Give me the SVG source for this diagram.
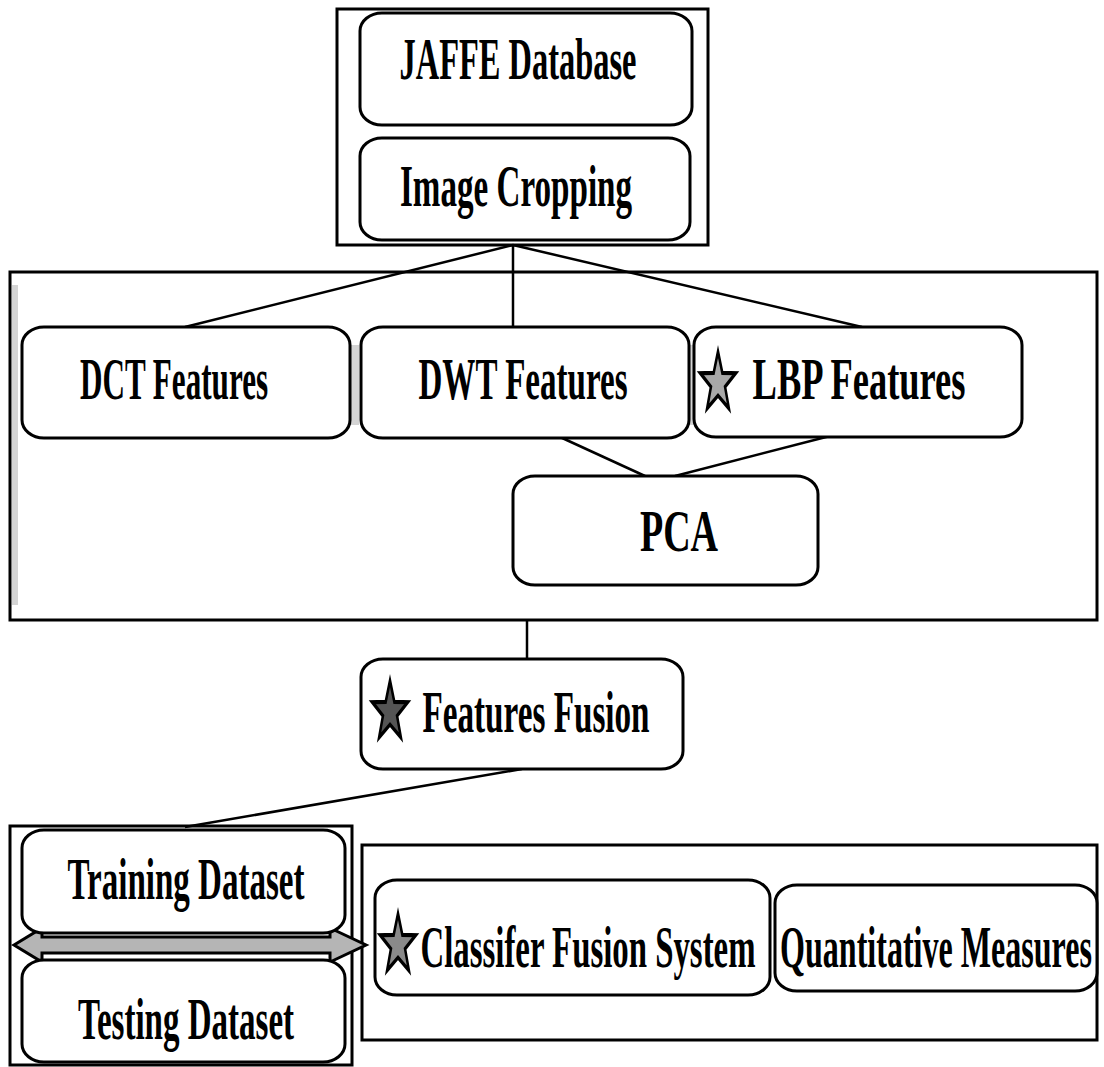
<svg xmlns="http://www.w3.org/2000/svg" xmlns:xlink="http://www.w3.org/1999/xlink" width="1104" height="1067" viewBox="0 0 1104 1067">
<style>
.frame{fill:none;stroke:#000;stroke-width:3}
.box{fill:#fff;stroke:#000;stroke-width:3}
.lbl{font-family:"Liberation Serif","Times New Roman",serif;font-weight:bold;font-size:60px;fill:#000;text-anchor:middle}
.conn{stroke:#000;stroke-width:2.5;fill:none}
.strip{fill:#d4d4d4}
</style>
<defs>
<polygon id="star" points="0,-30 7,-9.7 28.5,-9.3 11.4,3.7 17.6,24.3 0,12 -17.6,24.3 -11.4,3.7 -28.5,-9.3 -7,-9.7" stroke="#000" stroke-width="4" stroke-linejoin="miter"/>
</defs>
<rect width="1104" height="1067" fill="#fff"/>

<g id="containers">
<rect class="frame" x="337" y="9" width="371" height="236"/>
<rect class="frame" x="10" y="272" width="1087" height="348" stroke-width="2.5"/>
<rect class="strip" x="12" y="285" width="6" height="320"/>
<rect class="strip" x="350" y="345" width="9" height="80"/>
<rect class="strip" x="688" y="345" width="6" height="80"/>
<rect class="frame" x="10" y="826" width="342" height="239" stroke-width="5"/>
<rect class="frame" x="362" y="845" width="735" height="195" stroke-width="2.5"/>
</g>

<g id="connectors">
<line class="conn" x1="513" y1="245" x2="185" y2="327"/>
<line class="conn" x1="513" y1="245" x2="513" y2="327"/>
<line class="conn" x1="513" y1="245" x2="862" y2="327"/>
<line class="conn" x1="560" y1="437" x2="645" y2="476"/>
<line class="conn" x1="830" y1="436" x2="675" y2="476"/>
<line class="conn" x1="527" y1="620" x2="527" y2="659"/>
<line class="conn" x1="522" y1="769" x2="185" y2="827"/>
<g id="dataset-arrow">
<polygon points="14,945 42,928 42,937 330,937 330,928 366,945 330,962 330,953 42,953 42,962" fill="#b5b5b5" stroke="#000" stroke-width="3"/>
</g>
</g>

<g id="jaffe">
<rect class="box" x="360" y="13" width="332" height="112" rx="22" ry="18"/>
<text class="lbl" transform="translate(518,79) scale(0.55,1)" textLength="431" lengthAdjust="spacingAndGlyphs" font-size="62">JAFFE Database</text>
</g>
<g id="cropping">
<rect class="box" x="360" y="138" width="330" height="102" rx="22" ry="18"/>
<text class="lbl" transform="translate(516,206) scale(0.55,1)" textLength="422" lengthAdjust="spacingAndGlyphs">Image Cropping</text>
</g>
<g id="dct">
<rect class="box" x="22" y="327" width="328" height="111" rx="22" ry="18"/>
<text class="lbl" transform="translate(174,399) scale(0.55,1)" textLength="342" lengthAdjust="spacingAndGlyphs">DCT Features</text>
</g>
<g id="dwt">
<rect class="box" x="361" y="327" width="328" height="111" rx="22" ry="18"/>
<text class="lbl" transform="translate(523,399) scale(0.55,1)" textLength="380" lengthAdjust="spacingAndGlyphs">DWT Features</text>
</g>
<g id="lbp">
<rect class="box" x="694" y="327" width="328" height="110" rx="22" ry="18"/>
<use href="#star" xlink:href="#star" transform="translate(718,383) scale(0.62,1.05)" fill="#a8a8a8"/>
<text class="lbl" transform="translate(859,399) scale(0.55,1)" textLength="387" lengthAdjust="spacingAndGlyphs">LBP Features</text>
</g>
<g id="pca">
<rect class="box" x="513" y="476" width="305" height="109" rx="22" ry="18"/>
<text class="lbl" transform="translate(679,551) scale(0.55,1)" textLength="142" lengthAdjust="spacingAndGlyphs">PCA</text>
</g>
<g id="features-fusion">
<rect class="box" x="361" y="659" width="322" height="110" rx="22" ry="18"/>
<use href="#star" xlink:href="#star" transform="translate(390,712) scale(0.62,1.05)" fill="#555"/>
<text class="lbl" transform="translate(536,732) scale(0.55,1)" textLength="413" lengthAdjust="spacingAndGlyphs">Features Fusion</text>
</g>
<g id="training">
<rect class="box" x="22" y="830" width="323" height="103" rx="22" ry="18"/>
<text class="lbl" transform="translate(186,899) scale(0.55,1)" textLength="431" lengthAdjust="spacingAndGlyphs">Training Dataset</text>
</g>
<g id="testing">
<rect class="box" x="22" y="960" width="323" height="102" rx="22" ry="18"/>
<text class="lbl" transform="translate(186,1039) scale(0.55,1)" textLength="393" lengthAdjust="spacingAndGlyphs">Testing Dataset</text>
</g>
<g id="classifier">
<rect class="box" x="375" y="880" width="395" height="115" rx="22" ry="18"/>
<use href="#star" xlink:href="#star" transform="translate(398,945) scale(0.62,1.05)" fill="#8a8a8a"/>
<text class="lbl" transform="translate(588,967) scale(0.55,1)" textLength="609" lengthAdjust="spacingAndGlyphs">Classifer Fusion System</text>
</g>
<g id="quantitative">
<rect class="box" x="775" y="885" width="322" height="106" rx="22" ry="18"/>
<text class="lbl" transform="translate(936,967) scale(0.55,1)" textLength="567" lengthAdjust="spacingAndGlyphs">Quantitative Measures</text>
</g>
</svg>
